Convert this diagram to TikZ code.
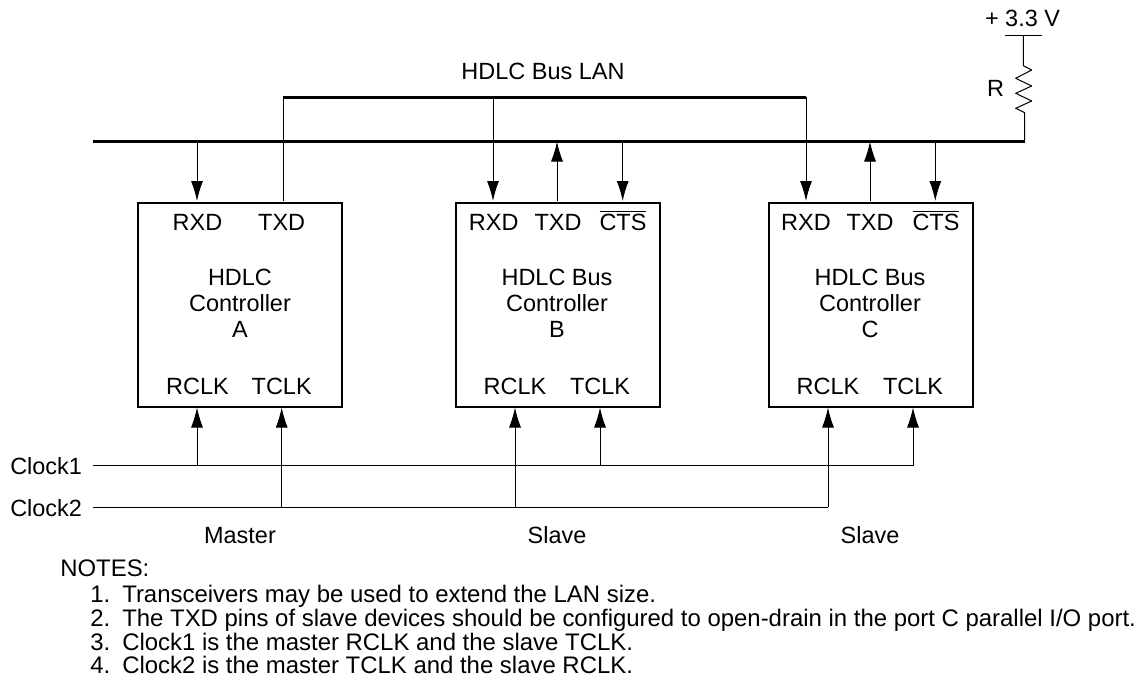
\documentclass[tikz,border=0pt]{standalone}
\usepackage{fontspec}
\setmainfont{Liberation Sans}
\usetikzlibrary{arrows.meta,calc}
\tikzset{
  x=0.75pt,y=-0.75pt,
  ctrl/.style={draw,line width=1.5pt,minimum width=153pt,minimum height=153pt,inner sep=0pt,outer sep=0pt},
  lbl/.style={inner sep=0pt,font=\fontsize{17.6pt}{19.5pt}\selectfont,anchor=base,align=center},
  note/.style={inner sep=0pt,font=\fontsize{17.95pt}{20pt}\selectfont,anchor=base west},
  bus/.style={line width=2.25pt},
  wire/.style={line width=0.75pt},
  sig/.style={wire,-{Latex[length=15pt,width=9pt]}}
}
\newcommand{\ovl}[1]{$\overline{\hbox{#1}}$}
\newcommand{\numb}[1]{\makebox[24pt][l]{#1}}
\begin{document}
\begin{tikzpicture}
\useasboundingbox (0,0) rectangle (1138,679);
% boxes
\node[ctrl] (A) at (240,304.5) {};
\node[ctrl] (B) at (558,304.5) {};
\node[ctrl] (C) at (870.5,304.5) {};
% buses
\coordinate (busL) at (93,141.5);
\coordinate (busR) at (1024.5,141.5);
\coordinate (lanL) at (283,97);
\coordinate (lanR) at (806,97);
\draw[bus] (busL) -- (busR);
\draw[bus] (lanL) -- (lanR);
\node[lbl] (lanlabel) at (543,79.5) {HDLC Bus LAN};
% pin coords, top
\coordinate (aR) at (197,201); \coordinate (aT) at (283,201);
\coordinate (bR) at (493,201); \coordinate (bT) at (557,201); \coordinate (bC) at (622.7,201);
\coordinate (cR) at (806,201); \coordinate (cT) at (870,201); \coordinate (cC) at (935.3,201);
% pin coords, bottom
\coordinate (aRc) at (197,407.5); \coordinate (aTc) at (281.7,407.5);
\coordinate (bRc) at (515,407.5); \coordinate (bTc) at (600,407.5);
\coordinate (cRc) at (828,407.5); \coordinate (cTc) at (913,407.5);
% top wires
\draw[sig] (aR |- busL) -- (aR);
\draw[wire] (aT) -- (aT |- lanL);
\draw[sig] (bR |- lanL) -- (bR);
\draw[sig] (bT) -- (bT |- busL);
\draw[sig] (bC |- busL) -- (bC);
\draw[sig] (cR |- lanL) -- (cR);
\draw[sig] (cT) -- (cT |- busL);
\draw[sig] (cC |- busL) -- (cC);
% clocks
\coordinate (ck1L) at (93,465.7); \coordinate (ck2L) at (93,507.3);
\coordinate (ck1R) at (913,465.7); \coordinate (ck2R) at (828,507.3);
\node[lbl,anchor=base west] (ck1) at (10,474) {Clock1};
\node[lbl,anchor=base west] (ck2) at (10,516) {Clock2};
\draw[wire] (ck1L) -- (ck1R);
\draw[wire] (ck2L) -- (ck2R);
\draw[sig] (aRc |- ck1L) -- (aRc);
\draw[sig] (aTc |- ck2L) -- (aTc);
\draw[sig] (bRc |- ck2L) -- (bRc);
\draw[sig] (bTc |- ck1L) -- (bTc);
\draw[sig] (cRc |- ck2L) -- (cRc);
\draw[sig] (cTc |- ck1L) -- (cTc);
% resistor
\coordinate (vL) at (1005,35.3); \coordinate (vR) at (1042,35.3);
\coordinate (vM) at (1023.3,35.3);
\draw[wire] (vL) -- (vR);
\draw[wire,line join=round] (vM) -- (1023.3,65.7) -- (1031.7,70) -- (1015.7,78.3) -- (1031.7,86) -- (1015.7,93.3) -- (1031.7,101) -- (1015.7,108.3) -- (1024.7,112.7) -- (1024.7,141.5);
\node[lbl] (vlabel) at (1022.5,26) {+ 3.3 V};
\node[lbl] (rlabel) at (995.5,96.7) {R};
% box A labels
\node[lbl] (a1) at (197.5,230) {RXD};
\node[lbl] (a2) at (281.7,230) {TXD};
\node[lbl] (a3) at (240,337.5) {HDLC\\Controller\\A};
\node[lbl] (a4) at (197.5,394.3) {RCLK};
\node[lbl] (a5) at (281.7,394.3) {TCLK};
% box B
\node[lbl] (b1) at (493.7,230) {RXD};
\node[lbl] (b2) at (558,230) {TXD};
\node[lbl] (b3) at (623,230) {\ovl{CTS}};
\node[lbl] (b4) at (557,337.5) {HDLC Bus\\Controller\\B};
\node[lbl] (b5) at (515,394.3) {RCLK};
\node[lbl] (b6) at (600,394.3) {TCLK};
% box C
\node[lbl] (c1) at (806,230) {RXD};
\node[lbl] (c2) at (870,230) {TXD};
\node[lbl] (c3) at (936,230) {\ovl{CTS}};
\node[lbl] (c4) at (870,337.5) {HDLC Bus\\Controller\\C};
\node[lbl] (c5) at (828,394.3) {RCLK};
\node[lbl] (c6) at (913,394.3) {TCLK};
% roles
\node[lbl] (m) at (240,543) {Master};
\node[lbl] (s1) at (557,543) {Slave};
\node[lbl] (s2) at (870,543) {Slave};
% notes
\node[note] (n0) at (60,576.7) {NOTES:};
\node[note] (n1) at (90,602.7) {\numb{1.}Transceivers may be used to extend the LAN size.};
\node[note] (n2) at (90,626.7) {\numb{2.}The TXD pins of slave devices should be configured to open-drain in the port C parallel I/O port.};
\node[note] (n3) at (90,650.5) {\numb{3.}Clock1 is the master RCLK and the slave TCLK.};
\node[note] (n4) at (90,673) {\numb{4.}Clock2 is the master TCLK and the slave RCLK.};
\end{tikzpicture}
\end{document}
